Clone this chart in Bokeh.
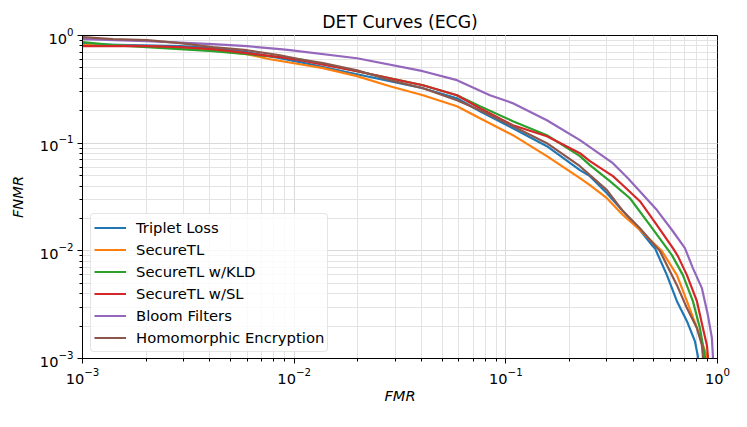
from bokeh.plotting import figure
from bokeh.models import Range1d
from bokeh.embed import file_html
from bokeh.resources import INLINE

# ---- data (FMR, FNMR) ----
chart_title = "DET Curves (ECG)"
series_names = ["Triplet Loss", "SecureTL", "SecureTL w/KLD", "SecureTL w/SL",
                "Bloom Filters", "Homomorphic Encryption"]
series_colors = ["#1f77b4", "#ff7f0e", "#2ca02c", "#d62728", "#9467bd", "#8c564b"]

fmr_triplet = [0.001, 0.001676, 0.002889, 0.004132, 0.005984, 0.00857, 0.01065, 0.01981,
               0.04059, 0.05875, 0.07544, 0.1080, 0.1563, 0.2239, 0.2496, 0.3003, 0.3573,
               0.4300, 0.4900, 0.5062, 0.5768, 0.6431, 0.7170, 0.7819, 0.8080, 0.8080]
fnmr_triplet = [0.830, 0.813, 0.796, 0.762, 0.700, 0.615, 0.565, 0.437,
                0.324, 0.2617, 0.1982, 0.1378, 0.0938, 0.0562, 0.0494, 0.0343, 0.0234,
                0.0156, 0.0113, 0.0106, 0.00595, 0.00341, 0.00222, 0.00145, 0.00105, 0.0009]

fmr_securetl = [0.001, 0.002017, 0.002889, 0.004132, 0.005984, 0.00769, 0.01065, 0.01368,
                0.01981, 0.02835, 0.04059, 0.05875, 0.07544, 0.1080, 0.1563, 0.2239, 0.2496,
                0.3003, 0.3573, 0.4300, 0.5462, 0.6431, 0.7170, 0.7993, 0.8531, 0.8911, 0.8911]
fnmr_securetl = [0.813, 0.796, 0.762, 0.730, 0.671, 0.602, 0.541, 0.497,
                 0.419, 0.338, 0.279, 0.2206, 0.1706, 0.1187, 0.0757, 0.0473, 0.0407,
                 0.0308, 0.0215, 0.0156, 0.00994, 0.00595, 0.00341, 0.00192, 0.00133, 0.00105, 0.0009]

fmr_kld = [0.001, 0.001393, 0.002017, 0.002889, 0.004132, 0.005984, 0.00857, 0.01065,
           0.01981, 0.04059, 0.05875, 0.07544, 0.1080, 0.1563, 0.2239, 0.2496, 0.3102,
           0.3857, 0.4795, 0.6090, 0.6864, 0.7651, 0.8257, 0.8531, 0.8720, 0.8720]
fnmr_kld = [0.867, 0.813, 0.779, 0.746, 0.715, 0.671, 0.629, 0.602,
            0.466, 0.345, 0.279, 0.2206, 0.1600, 0.1187, 0.0757, 0.0625, 0.0444,
            0.0308, 0.0173, 0.00912, 0.00595, 0.00341, 0.00192, 0.00133, 0.00105, 0.0009]

fmr_sl = [0.001, 0.002017, 0.002889, 0.004132, 0.005984, 0.00857, 0.01065, 0.01981,
          0.04059, 0.05875, 0.07544, 0.1080, 0.1563, 0.2239, 0.2496, 0.3205, 0.3573,
          0.4300, 0.5173, 0.6156, 0.6501, 0.7170, 0.7993, 0.8531, 0.8911, 0.9008, 0.9008]
fnmr_sl = [0.796, 0.796, 0.779, 0.746, 0.685, 0.629, 0.590, 0.466,
           0.345, 0.279, 0.2113, 0.1469, 0.1161, 0.0807, 0.0681, 0.0494, 0.0407,
           0.0289, 0.0173, 0.0106, 0.00893, 0.00595, 0.00341, 0.00192, 0.00133, 0.00105, 0.0009]

fmr_bloom = [0.001, 0.002017, 0.004132, 0.005984, 0.00857, 0.00955, 0.01981, 0.04059,
             0.05875, 0.08411, 0.1080, 0.1563, 0.2239, 0.3205, 0.3774, 0.5173, 0.6156,
             0.7015, 0.7651, 0.8439, 0.9008, 0.9408, 0.9512, 0.9512]
fnmr_bloom = [0.924, 0.885, 0.830, 0.796, 0.746, 0.730, 0.615, 0.466,
              0.385, 0.279, 0.2351, 0.1634, 0.1066, 0.0652, 0.0473, 0.0239, 0.0152,
              0.0106, 0.00691, 0.00450, 0.00253, 0.00155, 0.00105, 0.0009]

fmr_he = [0.001, 0.001393, 0.002017, 0.002889, 0.004132, 0.005984, 0.00857, 0.01065,
          0.01368, 0.01981, 0.02835, 0.04059, 0.05875, 0.07544, 0.1080, 0.1563, 0.2239,
          0.2496, 0.3003, 0.3573, 0.4300, 0.5344, 0.6431, 0.7170, 0.7993, 0.8439, 0.8531, 0.8531]
fnmr_he = [0.964, 0.924, 0.905, 0.848, 0.779, 0.730, 0.656, 0.602,
           0.553, 0.476, 0.385, 0.324, 0.2507, 0.2024, 0.1438, 0.1000, 0.0611,
           0.0505, 0.0366, 0.0234, 0.0162, 0.00994, 0.00480, 0.00294, 0.00192, 0.00133, 0.00105, 0.0009]

x_data = [fmr_triplet, fmr_securetl, fmr_kld, fmr_sl, fmr_bloom, fmr_he]
y_data = [fnmr_triplet, fnmr_securetl, fnmr_kld, fnmr_sl, fnmr_bloom, fnmr_he]

FONT = "DejaVu Sans"

p = figure(frame_width=635, frame_height=323,
           x_axis_type="log", y_axis_type="log",
           x_range=Range1d(1e-3, 1), y_range=Range1d(1e-3, 1),
           output_backend="svg", toolbar_location=None,
           title=chart_title,
           min_border_left=82, min_border_right=14, min_border_top=35, min_border_bottom=50)

p.background_fill_color = "white"
p.border_fill_color = "white"
p.outline_line_color = "black"
p.outline_line_width = 1

p.title.align = "center"
p.title.vertical_align = "top"
p.title.text_font = FONT
p.title.text_font_size = "17.3px"
p.title.text_font_style = "normal"
p.title.text_color = "black"
p.title.standoff = 4

for ax in (p.xaxis, p.yaxis):
    ax.axis_line_color = "black"
    ax.axis_line_width = 1
    ax.major_tick_line_color = "black"
    ax.minor_tick_line_color = "black"
    ax.major_tick_in = 0
    ax.major_tick_out = 5
    ax.minor_tick_in = 0
    ax.minor_tick_out = 3
    ax.major_label_text_font = FONT
    ax.major_label_text_font_size = "14.6px"
    ax.major_label_text_color = "black"
    ax.axis_label_text_font = FONT
    ax.axis_label_text_font_size = "14.6px"
    ax.axis_label_text_font_style = "italic"
    ax.axis_label_text_color = "black"

p.xaxis.axis_label = "FMR"
p.yaxis.axis_label = "FNMR"
p.xaxis.major_label_standoff = 4
p.yaxis.major_label_standoff = 4
p.xaxis.axis_label_standoff = 0
p.yaxis.axis_label_standoff = 11

for g in (p.xgrid, p.ygrid):
    g.grid_line_color = "#d9d9d9"
    g.grid_line_width = 1
    g.minor_grid_line_color = "#e3e3e3"
    g.minor_grid_line_width = 1

for name, color, xs, ys in zip(series_names, series_colors, x_data, y_data):
    p.line(xs, ys, line_color=color, line_width=2.2, legend_label=name)

lg = p.legend[0]
lg.location = (8, 6)
lg.margin = 0
lg.padding = 3
lg.spacing = 1
lg.glyph_width = 32
lg.glyph_height = 21
lg.label_height = 21
lg.label_standoff = 10
lg.label_text_font = FONT
lg.label_text_font_size = "14.8px"
lg.label_text_color = "black"
lg.border_line_color = "#cccccc"
lg.border_line_width = 1
lg.background_fill_color = "white"
lg.background_fill_alpha = 0.8
if "border_radius" in lg.properties():
    lg.border_radius = 4

open("out.html", "w").write(file_html(p, INLINE))
